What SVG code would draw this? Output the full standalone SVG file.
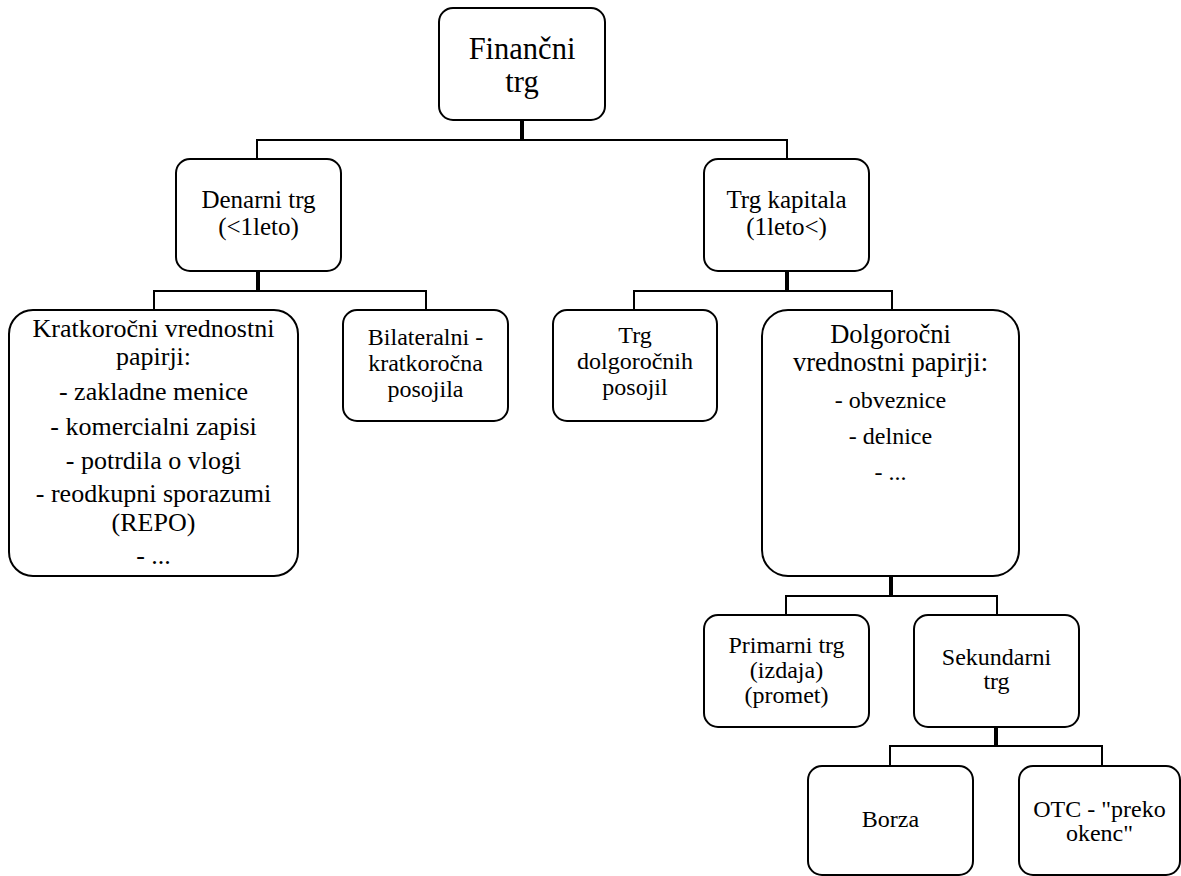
<svg xmlns="http://www.w3.org/2000/svg" width="1181" height="876" viewBox="0 0 1181 876">
<style>
.box{fill:#fff;stroke:#000;stroke-width:2}
.ln{fill:none;stroke:#000;stroke-width:2}
.stub{fill:none;stroke:#000;stroke-width:4}
text{font-family:"Liberation Serif","Times New Roman",serif;fill:#000;text-anchor:middle}
.t24{font-size:24px}
.t25{font-size:25px}
.t26{font-size:26px}
</style>
<rect width="1181" height="876" fill="#fff"/>
<g id="connectors">
<path class="stub" d="M522 120V140"/>
<path class="ln" d="M257 159V140H787V159"/>
<path class="stub" d="M258 271V291"/>
<path class="ln" d="M154 310V291H426V310"/>
<path class="stub" d="M787 271V291"/>
<path class="ln" d="M634 310V291H892V310"/>
<path class="stub" d="M891 576V596"/>
<path class="ln" d="M786 615V596H997V615"/>
<path class="stub" d="M996 727V746"/>
<path class="ln" d="M890 766V746H1102V766"/>
</g>
<g id="n-root">
<rect class="box" x="439" y="8" width="166" height="112" rx="14"/>
<text x="522" y="59" font-size="30.5">Finančni</text>
<text x="522" y="92" font-size="30.5">trg</text>
</g>
<g id="n-denarni">
<rect class="box" x="176" y="159" width="165" height="112" rx="14"/>
<text class="t25" x="258.5" y="208">Denarni trg</text>
<text class="t25" x="258.5" y="235">(&lt;1leto)</text>
</g>
<g id="n-kapital">
<rect class="box" x="704" y="159" width="165" height="112" rx="14"/>
<text class="t25" x="786.5" y="208">Trg kapitala</text>
<text class="t25" x="786.5" y="235">(1leto&lt;)</text>
</g>
<g id="n-kratko">
<rect class="box" x="9" y="310" width="289" height="266" rx="24"/>
<text class="t26" x="153.5" y="337">Kratkoročni vrednostni</text>
<text class="t26" x="153.5" y="365">papirji:</text>
<text class="t26" x="153.5" y="400">- zakladne menice</text>
<text class="t26" x="153.5" y="435">- komercialni zapisi</text>
<text class="t26" x="153.5" y="469">- potrdila o vlogi</text>
<text class="t26" x="153.5" y="502">- reodkupni sporazumi</text>
<text class="t26" x="153.5" y="531">(REPO)</text>
<text class="t26" x="153.5" y="564">- ...</text>
</g>
<g id="n-bilat">
<rect class="box" x="343" y="310" width="165" height="111" rx="14"/>
<text class="t24" x="425.5" y="345">Bilateralni -</text>
<text class="t24" x="425.5" y="371">kratkoročna</text>
<text class="t24" x="425.5" y="397">posojila</text>
</g>
<g id="n-dolgposojil">
<rect class="box" x="553" y="310" width="164" height="111" rx="14"/>
<text class="t24" x="635" y="343">Trg</text>
<text class="t24" x="635" y="369">dolgoročnih</text>
<text class="t24" x="635" y="395">posojil</text>
</g>
<g id="n-dolgvp">
<rect class="box" x="762" y="310" width="257" height="266" rx="26"/>
<text x="890.5" y="343" font-size="26.5">Dolgoročni</text>
<text x="890.5" y="371" font-size="26.5">vrednostni papirji:</text>
<text class="t24" x="890.5" y="408">- obveznice</text>
<text class="t24" x="890.5" y="444">- delnice</text>
<text class="t24" x="890.5" y="480">-  ...</text>
</g>
<g id="n-primarni">
<rect class="box" x="704" y="615" width="165" height="112" rx="14"/>
<text class="t24" x="786.5" y="653">Primarni trg</text>
<text class="t24" x="786.5" y="678">(izdaja)</text>
<text class="t24" x="786.5" y="703">(promet)</text>
</g>
<g id="n-sekundarni">
<rect class="box" x="914" y="615" width="165" height="112" rx="14"/>
<text class="t24" x="996.5" y="665">Sekundarni</text>
<text class="t24" x="996.5" y="689">trg</text>
</g>
<g id="n-borza">
<rect class="box" x="808" y="766" width="165" height="109" rx="14"/>
<text class="t24" x="890.5" y="827">Borza</text>
</g>
<g id="n-otc">
<rect class="box" x="1019" y="766" width="161" height="109" rx="14"/>
<text class="t24" x="1099.5" y="817">OTC - "preko</text>
<text class="t24" x="1099.5" y="841">okenc"</text>
</g>
</svg>
